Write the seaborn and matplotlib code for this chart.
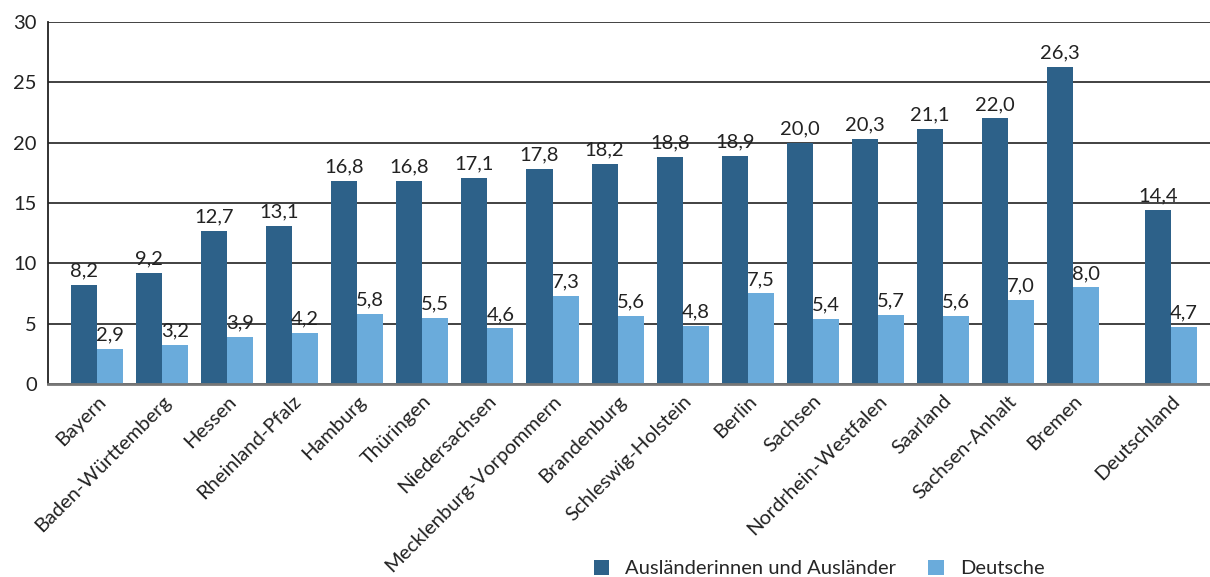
import pandas as pd
import numpy as np
import matplotlib.pyplot as plt
import seaborn as sns

# ===============================
# Data
# ===============================

states = [
    "Bayern", "Baden-Württemberg", "Hessen", "Rheinland-Pfalz", "Hamburg",
    "Thüringen", "Niedersachsen", "Mecklenburg-Vorpommern", "Brandenburg",
    "Schleswig-Holstein", "Berlin", "Sachsen", "Nordrhein-Westfalen",
    "Saarland", "Sachsen-Anhalt", "Bremen", "Deutschland",
]
auslaender = [8.2, 9.2, 12.7, 13.1, 16.8, 16.8, 17.1, 17.8, 18.2,
              18.8, 18.9, 20.0, 20.3, 21.1, 22.0, 26.3, 14.4]
deutsche = [2.9, 3.2, 3.9, 4.2, 5.8, 5.5, 4.6, 7.3, 5.6,
            4.8, 7.5, 5.4, 5.7, 5.6, 7.0, 8.0, 4.7]
series = ["Ausländerinnen und Ausländer", "Deutsche"]
colors = ["#2d6189", "#6aabdb"]

# slot positions, Deutschland set apart by a small gap
pos = list(np.arange(len(states) - 1, dtype=float)) + [len(states) - 0.5]

df = pd.DataFrame({
    "state": states * 2,
    "pos": pos * 2,
    "group": [series[0]] * len(states) + [series[1]] * len(states),
    "value": auslaender + deutsche,
})

# ===============================
# Plot
# ===============================

sns.set_style("white")
plt.rcParams["font.family"] = ["Lato", "DejaVu Sans"]
fs = 14.5

fig = plt.figure(figsize=(12.1, 5.77), dpi=100)
ax = fig.add_axes([0.0397, 0.3345, 0.9603, 0.6275])

ax.yaxis.grid(True, color="#333333", linewidth=1.3)
ax.set_axisbelow(True)

sns.barplot(
    data=df, x="pos", y="value", hue="group",
    native_scale=True, palette=colors, saturation=1,
    width=0.8, dodge=True, linewidth=0, ax=ax,
)

for cont in ax.containers:
    vals = [p.get_height() for p in cont]
    ax.bar_label(cont, labels=[f"{v:.1f}".replace(".", ",") for v in vals],
                 padding=4, fontsize=fs, color="#222222")

ax.set_ylim(0, 30)
ax.set_yticks(range(0, 31, 5))
ax.set_xlim(-0.75, pos[-1] + 0.6)
ax.set_xticks(pos)
ax.set_xticklabels(states, rotation=45, ha="right", rotation_mode="anchor",
                   fontsize=fs, color="#222222")
ax.tick_params(axis="y", labelsize=fs, labelcolor="#222222", length=0, pad=8)
ax.tick_params(axis="x", length=0, pad=6)
ax.set_xlabel("")
ax.set_ylabel("")

for s in ["top", "right"]:
    ax.spines[s].set_visible(False)
ax.spines["left"].set_color("#222222")
ax.spines["left"].set_linewidth(1.3)
ax.spines["bottom"].set_color("#777777")
ax.spines["bottom"].set_linewidth(2)

handles, labels = ax.get_legend_handles_labels()
ax.get_legend().remove()
fig.legend(handles, labels, loc="lower center", bbox_to_anchor=(0.677, -0.032),
           ncol=2, frameon=False, fontsize=fs, handlelength=0.75,
           handleheight=0.75, columnspacing=1.6, handletextpad=0.8)

plt.savefig("out.png", dpi=100)
plt.close()
